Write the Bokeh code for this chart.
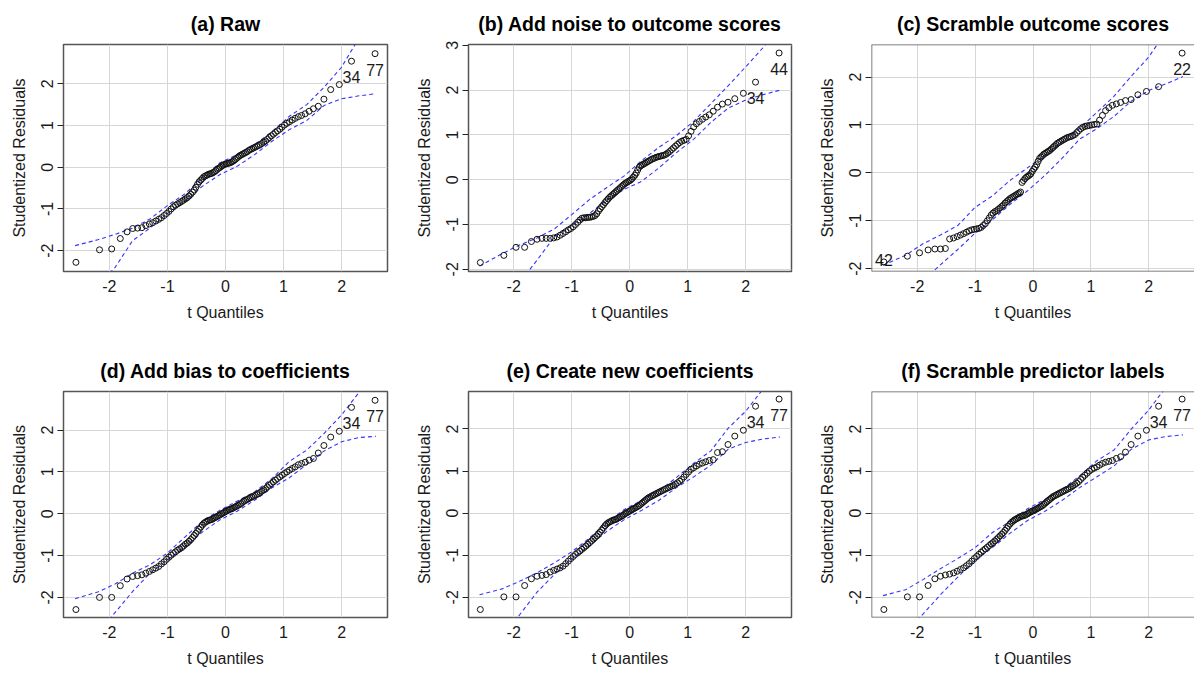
from bokeh.plotting import figure
from bokeh.layouts import row, column
from bokeh.models import FixedTicker, Span, Range1d, ColumnDataSource
from bokeh.core.properties import value
from bokeh.embed import file_html
from bokeh.resources import INLINE

# ---------------- data ----------------
# theoretical t quantiles (n = 100)
TQ = [-2.576, -2.170, -1.960, -1.812, -1.695, -1.598, -1.514, -1.440, -1.372, -1.311,
      -1.254, -1.200, -1.150, -1.103, -1.058, -1.015, -0.974, -0.935, -0.896, -0.860,
      -0.824, -0.789, -0.755, -0.722, -0.690, -0.659, -0.628, -0.598, -0.568, -0.539,
      -0.510, -0.482, -0.454, -0.426, -0.399, -0.372, -0.345, -0.319, -0.292, -0.266,
      -0.240, -0.215, -0.189, -0.164, -0.138, -0.113, -0.088, -0.063, -0.038, -0.013,
      0.013, 0.038, 0.063, 0.088, 0.113, 0.138, 0.164, 0.189, 0.215, 0.240,
      0.266, 0.292, 0.319, 0.345, 0.372, 0.399, 0.426, 0.454, 0.482, 0.510,
      0.539, 0.568, 0.598, 0.628, 0.659, 0.690, 0.722, 0.755, 0.789, 0.824,
      0.860, 0.896, 0.935, 0.974, 1.015, 1.058, 1.103, 1.150, 1.200, 1.254,
      1.311, 1.372, 1.440, 1.514, 1.598, 1.695, 1.812, 1.960, 2.170, 2.576]

TITLES = ["(a) Raw", "(b) Add noise to outcome scores", "(c) Scramble outcome scores",
          "(d) Add bias to coefficients", "(e) Create new coefficients", "(f) Scramble predictor labels"]

X_TICKS = [-2, -1, 0, 1, 2]
X_LABEL = "t Quantiles"
Y_LABEL = "Studentized Residuals"

RES_A = [-2.28, -1.98, -1.96, -1.71, -1.55, -1.47, -1.46, -1.45, -1.40, -1.36,
         -1.33, -1.29, -1.25, -1.21, -1.16, -1.11, -1.06, -1.00, -0.95, -0.91,
         -0.88, -0.85, -0.82, -0.79, -0.76, -0.73, -0.69, -0.65, -0.60, -0.55,
         -0.48, -0.41, -0.35, -0.31, -0.27, -0.23, -0.21, -0.19, -0.17, -0.16,
         -0.15, -0.13, -0.11, -0.08, -0.05, -0.02, 0.00, 0.03, 0.05, 0.07,
         0.08, 0.09, 0.10, 0.11, 0.13, 0.15, 0.18, 0.21, 0.24, 0.27,
         0.29, 0.31, 0.33, 0.35, 0.37, 0.40, 0.42, 0.44, 0.46, 0.48,
         0.50, 0.52, 0.54, 0.57, 0.60, 0.63, 0.67, 0.71, 0.75, 0.79,
         0.83, 0.87, 0.91, 0.96, 1.01, 1.05, 1.09, 1.13, 1.17, 1.21,
         1.24, 1.28, 1.34, 1.40, 1.46, 1.63, 1.86, 1.98, 2.54, 2.72]

RES_B = [-1.85, -1.69, -1.51, -1.51, -1.38, -1.33, -1.31, -1.31, -1.31, -1.30,
         -1.28, -1.24, -1.20, -1.16, -1.12, -1.09, -1.05, -1.00, -0.95, -0.90,
         -0.86, -0.85, -0.85, -0.84, -0.84, -0.83, -0.82, -0.80, -0.76, -0.70,
         -0.65, -0.60, -0.56, -0.51, -0.47, -0.43, -0.39, -0.36, -0.33, -0.30,
         -0.27, -0.24, -0.21, -0.18, -0.15, -0.12, -0.09, -0.07, -0.05, -0.03,
         -0.01, 0.02, 0.06, 0.10, 0.15, 0.22, 0.28, 0.31, 0.33, 0.35,
         0.37, 0.39, 0.41, 0.43, 0.45, 0.47, 0.48, 0.50, 0.51, 0.52,
         0.53, 0.54, 0.55, 0.57, 0.60, 0.63, 0.67, 0.71, 0.75, 0.79,
         0.83, 0.86, 0.88, 0.90, 0.98, 1.08, 1.18, 1.25, 1.30, 1.35,
         1.40, 1.45, 1.53, 1.62, 1.69, 1.73, 1.81, 1.93, 2.18, 2.83]

RES_C = [-1.86, -1.74, -1.67, -1.61, -1.59, -1.59, -1.58, -1.38, -1.36, -1.33,
         -1.30, -1.27, -1.24, -1.21, -1.19, -1.18, -1.17, -1.16, -1.14, -1.10,
         -1.06, -1.00, -0.94, -0.88, -0.84, -0.81, -0.79, -0.76, -0.73, -0.70,
         -0.67, -0.63, -0.60, -0.57, -0.54, -0.52, -0.50, -0.48, -0.46, -0.44,
         -0.42, -0.40, -0.20, -0.16, -0.12, -0.09, -0.07, -0.05, -0.02, 0.03,
         0.08, 0.12, 0.17, 0.24, 0.30, 0.33, 0.36, 0.39, 0.41, 0.43,
         0.45, 0.47, 0.50, 0.53, 0.56, 0.59, 0.62, 0.64, 0.66, 0.68,
         0.70, 0.72, 0.74, 0.75, 0.76, 0.78, 0.80, 0.84, 0.88, 0.92,
         0.95, 0.97, 0.98, 0.99, 1.00, 1.01, 1.02, 1.10, 1.20, 1.30,
         1.36, 1.41, 1.44, 1.47, 1.51, 1.53, 1.63, 1.70, 1.80, 2.50]

RES_D = [-2.29, -2.00, -2.00, -1.72, -1.56, -1.50, -1.48, -1.46, -1.42, -1.38,
         -1.34, -1.30, -1.26, -1.20, -1.15, -1.09, -1.04, -0.99, -0.95, -0.91,
         -0.87, -0.84, -0.81, -0.77, -0.73, -0.70, -0.66, -0.62, -0.57, -0.52,
         -0.47, -0.42, -0.37, -0.32, -0.27, -0.23, -0.20, -0.18, -0.16, -0.15,
         -0.14, -0.12, -0.10, -0.08, -0.06, -0.04, -0.02, 0.00, 0.02, 0.04,
         0.06, 0.08, 0.10, 0.11, 0.12, 0.14, 0.16, 0.18, 0.20, 0.22,
         0.24, 0.27, 0.30, 0.32, 0.34, 0.36, 0.38, 0.40, 0.42, 0.44,
         0.46, 0.48, 0.51, 0.54, 0.57, 0.60, 0.64, 0.68, 0.72, 0.76,
         0.80, 0.84, 0.88, 0.92, 0.96, 1.00, 1.04, 1.08, 1.12, 1.17,
         1.20, 1.23, 1.28, 1.32, 1.45, 1.63, 1.83, 1.97, 2.54, 2.71]

RES_E = [-2.29, -1.99, -1.99, -1.72, -1.56, -1.50, -1.48, -1.46, -1.40, -1.36,
         -1.33, -1.30, -1.26, -1.20, -1.14, -1.08, -1.03, -0.98, -0.94, -0.90,
         -0.86, -0.82, -0.78, -0.74, -0.70, -0.66, -0.62, -0.58, -0.54, -0.50,
         -0.45, -0.40, -0.35, -0.30, -0.26, -0.23, -0.21, -0.19, -0.17, -0.16,
         -0.15, -0.13, -0.11, -0.09, -0.07, -0.05, -0.02, 0.00, 0.02, 0.04,
         0.06, 0.08, 0.10, 0.12, 0.14, 0.16, 0.18, 0.21, 0.24, 0.27,
         0.30, 0.33, 0.36, 0.38, 0.40, 0.42, 0.44, 0.46, 0.48, 0.50,
         0.52, 0.54, 0.56, 0.58, 0.60, 0.62, 0.64, 0.66, 0.69, 0.72,
         0.76, 0.80, 0.86, 0.92, 0.98, 1.04, 1.08, 1.12, 1.16, 1.19,
         1.22, 1.25, 1.27, 1.44, 1.46, 1.63, 1.83, 1.97, 2.54, 2.71]

RES_F = [-2.29, -1.99, -1.99, -1.72, -1.56, -1.50, -1.47, -1.45, -1.42, -1.38,
         -1.34, -1.30, -1.25, -1.20, -1.14, -1.08, -1.03, -0.98, -0.93, -0.89,
         -0.85, -0.81, -0.77, -0.73, -0.70, -0.66, -0.62, -0.58, -0.54, -0.50,
         -0.46, -0.41, -0.36, -0.31, -0.26, -0.22, -0.19, -0.16, -0.14, -0.12,
         -0.10, -0.08, -0.07, -0.06, -0.05, -0.03, -0.01, 0.01, 0.03, 0.05,
         0.06, 0.08, 0.10, 0.12, 0.14, 0.16, 0.18, 0.21, 0.24, 0.27,
         0.30, 0.33, 0.36, 0.39, 0.41, 0.43, 0.45, 0.47, 0.49, 0.51,
         0.53, 0.55, 0.57, 0.59, 0.62, 0.65, 0.68, 0.71, 0.75, 0.80,
         0.85, 0.90, 0.95, 1.00, 1.04, 1.07, 1.10, 1.14, 1.18, 1.21,
         1.23, 1.25, 1.30, 1.34, 1.45, 1.63, 1.83, 1.97, 2.54, 2.71]

# confidence envelope
ENV_X = [-2.59, -2.2, -1.9, -1.6, -1.3, -1.0, -0.7, -0.4, -0.1, 0.2, 0.5, 0.8, 1.1, 1.4, 1.7, 2.0, 2.3, 2.59]
UP_A = [-1.88, -1.74, -1.61, -1.46, -1.24, -0.92, -0.64, -0.26, 0.10, 0.30, 0.54, 0.85, 1.22, 1.50, 1.92, 2.40, 3.10, 3.60]
LO_A = [-3.60, -2.85, -2.40, -1.76, -1.46, -1.11, -0.82, -0.46, -0.18, 0.02, 0.30, 0.62, 0.90, 1.12, 1.48, 1.64, 1.71, 1.76]
UP_B = [-1.93, -1.65, -1.46, -1.30, -1.10, -0.78, -0.45, -0.18, 0.08, 0.42, 0.72, 0.98, 1.30, 1.70, 2.10, 2.52, 2.95, 3.50]
LO_B = [-3.30, -2.70, -2.30, -1.80, -1.28, -1.02, -0.76, -0.46, -0.22, -0.04, 0.26, 0.60, 0.90, 1.28, 1.60, 1.78, 1.90, 2.00]
UP_C = [-1.93, -1.72, -1.48, -1.30, -1.10, -0.72, -0.48, -0.16, 0.10, 0.36, 0.64, 0.92, 1.26, 1.60, 2.02, 2.42, 2.95, 3.50]
LO_C = [-3.40, -2.70, -2.26, -1.92, -1.60, -1.26, -0.98, -0.66, -0.38, -0.06, 0.30, 0.70, 0.92, 1.18, 1.50, 1.72, 1.86, 2.01]
UP_D = [-2.03, -1.87, -1.68, -1.42, -1.22, -0.94, -0.56, -0.18, 0.08, 0.30, 0.52, 0.84, 1.25, 1.52, 1.92, 2.36, 2.90, 3.40]
LO_D = [-3.60, -2.85, -2.36, -1.86, -1.42, -1.10, -0.80, -0.44, -0.15, 0.06, 0.32, 0.62, 0.86, 1.18, 1.50, 1.72, 1.82, 1.85]
UP_E = [-1.94, -1.80, -1.62, -1.42, -1.18, -0.92, -0.60, -0.22, 0.08, 0.30, 0.52, 0.84, 1.18, 1.48, 2.02, 2.42, 2.95, 3.50]
LO_E = [-3.60, -2.80, -2.42, -1.88, -1.46, -1.08, -0.78, -0.44, -0.16, 0.06, 0.30, 0.60, 0.86, 1.14, 1.52, 1.68, 1.76, 1.81]
UP_F = [-1.96, -1.82, -1.58, -1.32, -1.08, -0.82, -0.46, -0.20, 0.10, 0.32, 0.56, 0.88, 1.24, 1.50, 2.00, 2.45, 3.00, 3.50]
LO_F = [-3.60, -2.80, -2.40, -1.94, -1.52, -1.12, -0.82, -0.48, -0.18, 0.04, 0.30, 0.60, 0.86, 1.12, 1.52, 1.74, 1.82, 1.86]

# labelled points: index into TQ / residuals, label text
LAB_IDX_A, LAB_TXT_A = [98, 99], ["34", "77"]
LAB_IDX_B, LAB_TXT_B = [98, 99], ["34", "44"]
LAB_IDX_C, LAB_TXT_C = [0, 99], ["42", "22"]
LAB_IDX_D, LAB_TXT_D = [98, 99], ["34", "77"]
LAB_IDX_E, LAB_TXT_E = [98, 99], ["34", "77"]
LAB_IDX_F, LAB_TXT_F = [98, 99], ["34", "77"]

Y_RANGES = [(-2.50, 2.94), (-2.05, 3.02), (-2.06, 2.68), (-2.48, 2.92), (-2.48, 2.89), (-2.48, 2.89)]
Y_TICKS = [[-2, -1, 0, 1, 2], [-2, -1, 0, 1, 2, 3], [-2, -1, 0, 1, 2],
           [-2, -1, 0, 1, 2], [-2, -1, 0, 1, 2], [-2, -1, 0, 1, 2]]
X_RANGES = [(-2.79, 2.79), (-2.78, 2.79), (-2.79, 2.79)]

# ---------------- styling / layout ----------------
FONT = "Liberation Sans"
FRAME = "#555555"
TXT = "#1a1a1a"
COL_W = [400, 400, 394]
COL_BL = [63, 68, 71]
COL_BR = [13, 9, 0]
ROW_H = [340, 335]
ROW_BT = [44, 51]
ROW_BB = [69, 58]


def make_panel(k, title, res, up, lo, lab_idx, lab_txt):
    c, r = k % 3, k // 3
    p = figure(width=COL_W[c], height=ROW_H[r],
               x_range=Range1d(*X_RANGES[c]), y_range=Range1d(*Y_RANGES[k]),
               output_backend="svg", toolbar_location=None,
               min_border_left=COL_BL[c], min_border_right=COL_BR[c],
               min_border_top=ROW_BT[r], min_border_bottom=ROW_BB[r],
               background_fill_color="white", border_fill_color="white")
    p.title.text = title
    p.title.align = "center"
    p.title.text_font = FONT
    p.title.text_font_size = "19.5px"
    p.title.text_font_style = "bold"
    p.title.text_color = "#000000"
    p.title.standoff = 20

    if c == 2:
        p.outline_line_color = None
        x0, x1 = X_RANGES[c]
        y0, y1 = Y_RANGES[k]
        for loc, dim in ((x0, "height"), (y0, "width"), (y1, "width")):
            p.add_layout(Span(location=loc, dimension=dim, line_color=FRAME, line_width=1.5))
    else:
        p.outline_line_color = FRAME
        p.outline_line_width = 1.5

    p.xaxis.ticker = FixedTicker(ticks=X_TICKS)
    p.yaxis.ticker = FixedTicker(ticks=Y_TICKS[k])
    p.xaxis.major_label_overrides = {t: str(t) for t in X_TICKS}
    p.yaxis.major_label_overrides = {t: str(t) for t in Y_TICKS[k]}
    for ax in (p.xaxis, p.yaxis):
        ax.axis_line_color = None
        ax.minor_tick_line_color = None
        ax.major_label_text_font = FONT
        ax.major_label_text_font_size = "16px"
        ax.major_label_text_color = TXT
        ax.axis_label_text_font = FONT
        ax.axis_label_text_font_size = "16px"
        ax.axis_label_text_font_style = "normal"
        ax.axis_label_text_color = TXT
    p.xaxis.axis_label = X_LABEL
    p.yaxis.axis_label = Y_LABEL
    p.xaxis.major_tick_line_color = None
    p.xaxis.major_tick_out = 0
    p.xaxis.major_tick_in = 0
    p.xaxis.major_label_standoff = 8
    p.xaxis.axis_label_standoff = 9
    p.yaxis.major_tick_line_color = "#222222"
    p.yaxis.major_tick_out = 6
    p.yaxis.major_tick_in = 0
    p.yaxis.major_label_standoff = 4
    p.yaxis.major_label_orientation = "vertical"
    p.yaxis.axis_label_standoff = 11

    p.xgrid.grid_line_color = "#d6d6d6"
    p.ygrid.grid_line_color = "#d6d6d6"
    p.xgrid.grid_line_width = 1
    p.ygrid.grid_line_width = 1

    p.line(ENV_X, up, line_color="#3535ff", line_dash="4 3", line_width=1.1)
    p.line(ENV_X, lo, line_color="#3535ff", line_dash="4 3", line_width=1.1)
    p.scatter(TQ, res, marker="circle", size=6, fill_color=None, line_color="#111111", line_width=1)

    lx = [TQ[i] for i in lab_idx]
    ly = [res[i] for i in lab_idx]
    dy = [16 if res[i] > 0 else -2 for i in lab_idx]
    src = ColumnDataSource(dict(x=lx, y=ly, t=lab_txt, dy=dy))
    p.text(x="x", y="y", text="t", y_offset="dy", source=src, text_align="center",
           text_baseline="alphabetic", text_font=value(FONT), text_font_size=value("16px"),
           text_color=TXT)
    return p


panels = [
    make_panel(0, TITLES[0], RES_A, UP_A, LO_A, LAB_IDX_A, LAB_TXT_A),
    make_panel(1, TITLES[1], RES_B, UP_B, LO_B, LAB_IDX_B, LAB_TXT_B),
    make_panel(2, TITLES[2], RES_C, UP_C, LO_C, LAB_IDX_C, LAB_TXT_C),
    make_panel(3, TITLES[3], RES_D, UP_D, LO_D, LAB_IDX_D, LAB_TXT_D),
    make_panel(4, TITLES[4], RES_E, UP_E, LO_E, LAB_IDX_E, LAB_TXT_E),
    make_panel(5, TITLES[5], RES_F, UP_F, LO_F, LAB_IDX_F, LAB_TXT_F),
]

layout = column(row(*panels[:3], spacing=0), row(*panels[3:], spacing=0), spacing=0)
open("out.html", "w").write(file_html(layout, INLINE))
